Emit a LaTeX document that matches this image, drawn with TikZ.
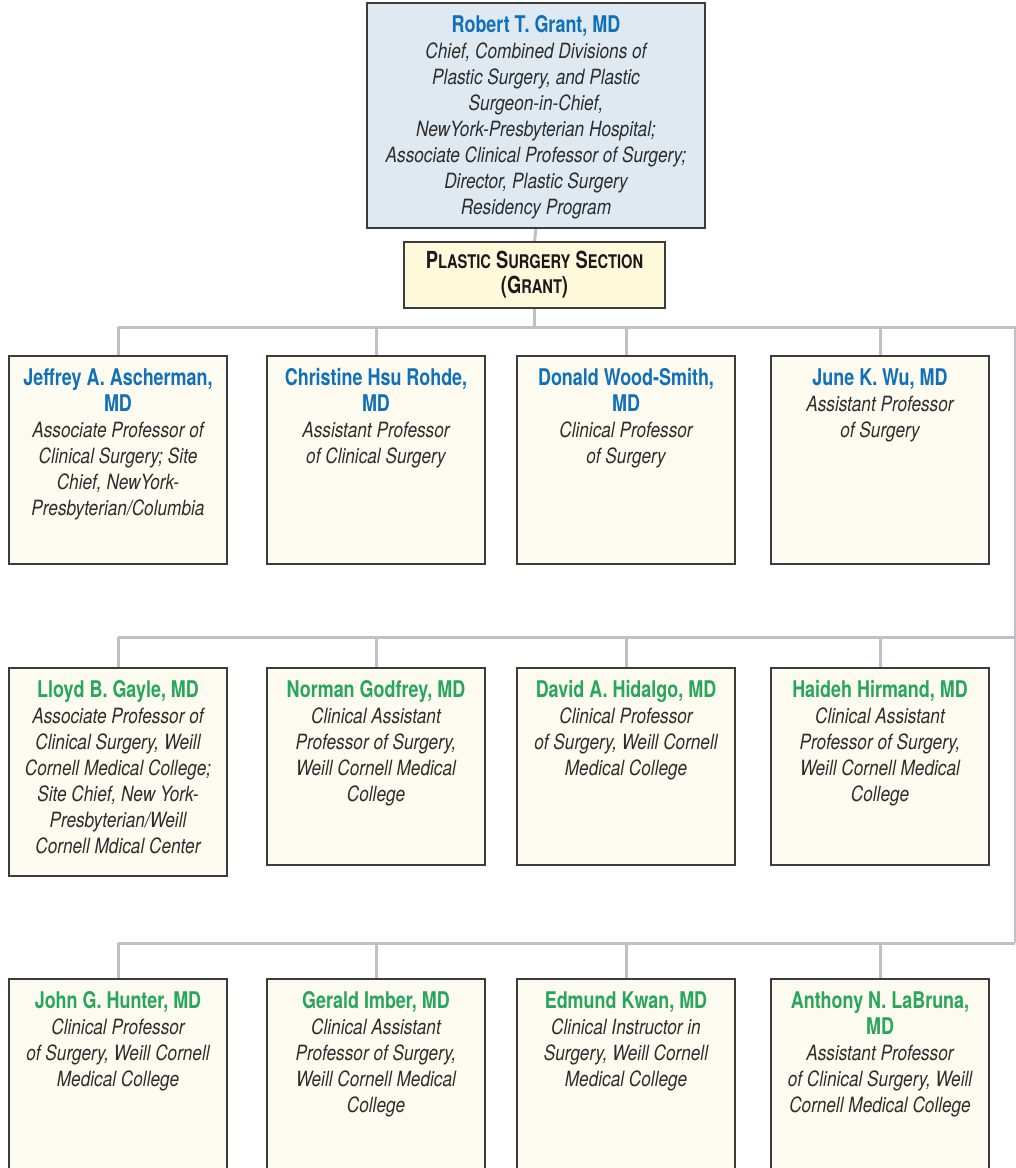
\documentclass[tikz,border=0pt]{standalone}
\usepackage{fontspec}
\setmainfont{TeX Gyre Heros}
\newfontfamily\namefont{TeX Gyre Heros}[FakeStretch=0.78]
\newfontfamily\descfont{TeX Gyre Heros}[FakeStretch=0.82]
\definecolor{nameblue}{RGB}{16,112,184}
\definecolor{namegreen}{RGB}{40,166,92}
\definecolor{descgray}{RGB}{45,45,45}
\definecolor{linegray}{RGB}{192,192,198}
\definecolor{boxline}{RGB}{60,60,60}
\definecolor{topfill}{RGB}{222,233,241}
\definecolor{secfill}{RGB}{255,249,219}
\definecolor{cardfill}{RGB}{253,251,240}
\newcommand\pname[1]{{\namefont\bfseries\fontsize{23}{26}\selectfont\strut #1}}
\newcommand\pdesc[1]{{\descfont\itshape\fontsize{21}{26}\selectfont\color{descgray}#1}}
\newcommand\bigC[1]{{\fontsize{23.5}{25}\selectfont #1}}
\newcommand\smC[1]{{\fontsize{18.8}{25}\selectfont #1}}
\pgfdeclarelayer{bg}
\pgfsetlayers{bg,main}
\tikzset{
  card/.style={draw=boxline, line width=1.4pt, fill=cardfill, minimum width=218pt,
    anchor=north west, inner sep=0pt, outer sep=0pt},
  topbox/.style={draw=boxline, line width=1.4pt, fill=topfill, minimum width=338pt,
    minimum height=225pt, anchor=north west, inner sep=0pt, outer sep=0pt},
  secbox/.style={draw=boxline, line width=1.4pt, fill=secfill, minimum width=261pt,
    minimum height=66pt, anchor=north west, inner sep=0pt, outer sep=0pt},
  txt/.style={anchor=north, align=center, inner sep=0pt, yshift=-10.8pt,
    font=\fontsize{21}{26}\selectfont},
  bluetxt/.style={txt, text=nameblue},
  greentxt/.style={txt, text=namegreen},
  sectxt/.style={anchor=north, align=center, inner sep=0pt, yshift=-8.5pt,
    font=\namefont\bfseries\fontsize{23.5}{25}\selectfont, text=black!90},
  conn/.style={draw=linegray, line width=3pt}
}
\begin{document}
\begin{tikzpicture}[x=1pt,y=-1pt]
\useasboundingbox (0,0) rectangle (1016,1168);
\clip (0,0) rectangle (1016,1168);

% top and section
\node[topbox] (top) at (367,3) {};
\node[bluetxt] (toptxt) at (top.north) {\pname{Robert T. Grant, MD}\\
  \pdesc{Chief, Combined Divisions of}\\
  \pdesc{Plastic Surgery, and Plastic}\\
  \pdesc{Surgeon-in-Chief,}\\
  \pdesc{NewYork-Presbyterian Hospital;}\\
  \pdesc{Associate Clinical Professor of Surgery;}\\
  \pdesc{Director, Plastic Surgery}\\
  \pdesc{Residency Program}};
\node[secbox] (sec) at (404,242) {};
\node[sectxt] (sectxt) at (sec.north) {\strut\bigC{P}\smC{LASTIC} \bigC{S}\smC{URGERY} \bigC{S}\smC{ECTION}\\
  (\bigC{G}\smC{RANT})};

% row 1
\node[card, minimum height=208pt] (c11) at (9,356) {};
\node[card, minimum height=208pt] (c12) at (267,356) {};
\node[card, minimum height=208pt] (c13) at (517,356) {};
\node[card, minimum height=208pt] (c14) at (771,356) {};
\node[bluetxt] (t11) at (c11.north) {\pname{Jeffrey A. Ascherman,}\\\pname{MD}\\
  \pdesc{Associate Professor of}\\\pdesc{Clinical Surgery; Site}\\
  \pdesc{Chief, NewYork-}\\\pdesc{Presbyterian/Columbia}};
\node[bluetxt] (t12) at (c12.north) {\pname{Christine Hsu Rohde,}\\\pname{MD}\\
  \pdesc{Assistant Professor}\\\pdesc{of Clinical Surgery}};
\node[bluetxt] (t13) at (c13.north) {\pname{Donald Wood-Smith,}\\\pname{MD}\\
  \pdesc{Clinical Professor}\\\pdesc{of Surgery}};
\node[bluetxt] (t14) at (c14.north) {\pname{June K. Wu, MD}\\
  \pdesc{Assistant Professor}\\\pdesc{of Surgery}};

% row 2
\node[card, minimum height=208pt] (c21) at (9,668) {};
\node[card, minimum height=197pt] (c22) at (267,668) {};
\node[card, minimum height=197pt] (c23) at (517,668) {};
\node[card, minimum height=197pt] (c24) at (771,668) {};
\node[greentxt] (t21) at (c21.north) {\pname{Lloyd B. Gayle, MD}\\
  \pdesc{Associate Professor of}\\\pdesc{Clinical Surgery, Weill}\\
  \pdesc{Cornell Medical College;}\\\pdesc{Site Chief, New York-}\\
  \pdesc{Presbyterian/Weill}\\\pdesc{Cornell Mdical Center}};
\node[greentxt] (t22) at (c22.north) {\pname{Norman Godfrey, MD}\\
  \pdesc{Clinical Assistant}\\\pdesc{Professor of Surgery,}\\
  \pdesc{Weill Cornell Medical}\\\pdesc{College}};
\node[greentxt] (t23) at (c23.north) {\pname{David A. Hidalgo, MD}\\
  \pdesc{Clinical Professor}\\\pdesc{of Surgery, Weill Cornell}\\
  \pdesc{Medical College}};
\node[greentxt] (t24) at (c24.north) {\pname{Haideh Hirmand, MD}\\
  \pdesc{Clinical Assistant}\\\pdesc{Professor of Surgery,}\\
  \pdesc{Weill Cornell Medical}\\\pdesc{College}};

% row 3
\node[card, minimum height=210pt] (c31) at (9,979) {};
\node[card, minimum height=210pt] (c32) at (267,979) {};
\node[card, minimum height=210pt] (c33) at (517,979) {};
\node[card, minimum height=210pt] (c34) at (771,979) {};
\node[greentxt] (t31) at (c31.north) {\pname{John G. Hunter, MD}\\
  \pdesc{Clinical Professor}\\\pdesc{of Surgery, Weill Cornell}\\
  \pdesc{Medical College}};
\node[greentxt] (t32) at (c32.north) {\pname{Gerald Imber, MD}\\
  \pdesc{Clinical Assistant}\\\pdesc{Professor of Surgery,}\\
  \pdesc{Weill Cornell Medical}\\\pdesc{College}};
\node[greentxt] (t33) at (c33.north) {\pname{Edmund Kwan, MD}\\
  \pdesc{Clinical Instructor in}\\\pdesc{Surgery, Weill Cornell}\\
  \pdesc{Medical College}};
\node[greentxt] (t34) at (c34.north) {\pname{Anthony N. LaBruna,}\\\pname{MD}\\
  \pdesc{Assistant Professor}\\\pdesc{of Clinical Surgery, Weill}\\
  \pdesc{Cornell Medical College}};

% connectors
\coordinate (bus1) at (1015,327);
\coordinate (bus2) at (1015,637);
\coordinate (bus3) at (1015,943);
\begin{pgfonlayer}{bg}
\draw[conn] (top.south) -- (sec.north);
\draw[conn] (sec.south) -- (sec.south |- bus1);
\draw[conn] (c11.north |- bus1) -- (bus1) -- (bus3);
\draw[conn] (c21.north |- bus2) -- (bus2);
\draw[conn] (c31.north |- bus3) -- (bus3);
\foreach \r/\b in {1/bus1,2/bus2,3/bus3}{
  \foreach \c in {1,2,3,4}{
    \draw[conn] (c\r\c.north |- \b) -- (c\r\c.north);
  }
}
\end{pgfonlayer}
\end{tikzpicture}
\end{document}
